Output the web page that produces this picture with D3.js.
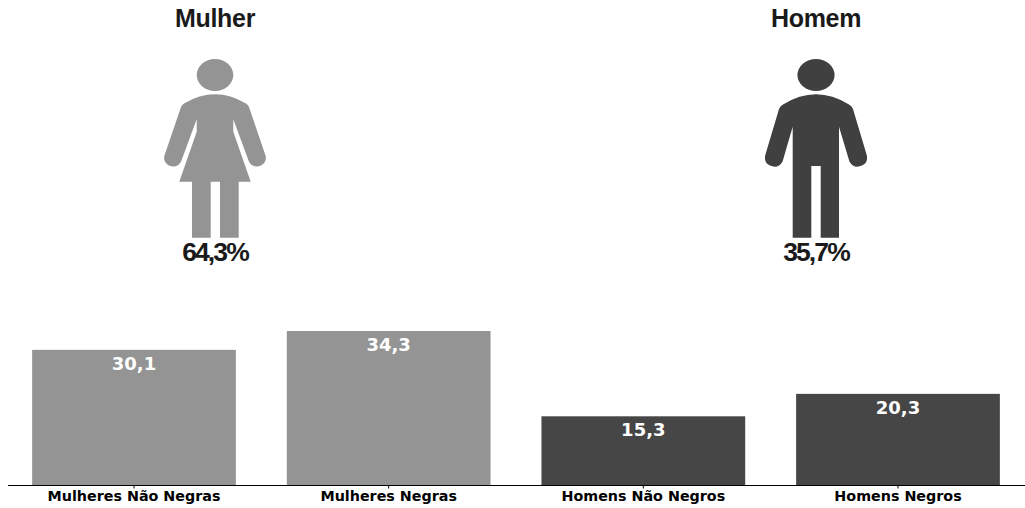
<!DOCTYPE html>
<html lang="pt">
<head>
  <meta charset="utf-8">
  <title>Mulher e Homem</title>
  <script src="https://d3js.org/d3.v7.min.js"></script>
  <style>
    html, body { margin: 0; padding: 0; background: #fff; overflow: hidden; }
    svg { display: block; }
    .group-title { font: bold 25px "Liberation Sans", sans-serif; fill: #1a1a1a; text-anchor: middle; letter-spacing: -0.3px; }
    .group-pct { font: bold 26.5px "Liberation Sans", sans-serif; fill: #1a1a1a; text-anchor: middle; letter-spacing: -1.9px; }
    .bar-value { font: bold 18px "DejaVu Sans", sans-serif; fill: #fff; text-anchor: middle; }
    .x-axis text { font: bold 14.3px "DejaVu Sans", sans-serif; fill: #000; }
  </style>
</head>
<body>
  <svg id="chart" width="1025" height="508" role="img" aria-label="Mulheres e homens, por raça"></svg>

<script>
  const groups = ['Mulher', 'Homem']
  const groupPct = ['64,3%', '35,7%']
  const groupColors = ['#949494', '#404040']

  const categories = ['Mulheres Não Negras', 'Mulheres Negras', 'Homens Não Negros', 'Homens Negros']
  const values = [30.1, 34.3, 15.3, 20.3]
  const valueLabels = ['30,1', '34,3', '15,3', '20,3']
  const barColors = ['#949494', '#949494', '#464646', '#464646']

  // pictograms, drawn around x = 0
  const icons = {
    Mulher: { rx: 18.3, path: 'M-31,103.5 Q0,85 31,103.5 Q33,104.5 34,107 L50.7,156 Q52,162 46,165.5 Q38,168.5 34,161.7 L18.3,119.3 L18.3,131.7 L35.7,181.7 L23.7,181.7 L23.7,237.7 L5,237.7 L5,181.7 L-4.3,181.7 L-4.3,237.7 L-23,237.7 L-23,181.7 L-35.7,181.7 L-18.3,131.7 L-18.3,119.3 L-34,161.7 Q-38,168.5 -46,165.5 Q-52,162 -50.7,156 L-34,107 Q-33,104.5 -31,103.5 Z' },
    Homem: { rx: 18.6, path: 'M-33,104.5 Q0,84 33,104.5 Q36,106 37,109 L51,156 Q52,163 46,165.5 Q38,169 33.5,161.7 L23,126.7 L23,237.7 L4.7,237.7 L4.7,166 L-4.7,166 L-4.7,237.7 L-23.3,237.7 L-23.3,126.7 L-33.5,161.7 Q-38,169 -46,165.5 Q-52,163 -51,156 L-37,109 Q-36,106 -33,104.5 Z' }
  }

  const svg = d3.select('#chart')

  const groupX = d3.scalePoint().domain(groups).range([215, 816])

  // top part: title, figure and share for each group
  const figure = svg.selectAll('.group')
    .data(groups)
    .enter()
    .append('g')
      .attr('class', 'group')
      .attr('transform', d => `translate(${groupX(d)}, 0)`)

  figure.append('text')
    .attr('class', 'group-title')
    .attr('y', 26.5)
    .text(d => d)

  figure.append('ellipse')
    .attr('cy', 75)
    .attr('rx', d => icons[d].rx)
    .attr('ry', 16)
    .style('fill', (d, i) => groupColors[i])

  figure.append('path')
    .attr('d', d => icons[d].path)
    .style('fill', (d, i) => groupColors[i])

  figure.append('text')
    .attr('class', 'group-pct')
    .attr('y', 261)
    .text((d, i) => groupPct[i])

  // bottom part: bar chart
  const x = d3.scaleBand()
    .domain(categories)
    .range([6.67, 1025.33])
    .paddingInner(0.2)
    .paddingOuter(0.1)

  const y = d3.scaleLinear()
    .domain([0, 34.3])
    .range([485, 331])

  svg.selectAll('.bar')
    .data(categories)
    .enter()
    .append('rect')
      .attr('class', 'bar')
      .attr('x', d => x(d))
      .attr('width', x.bandwidth())
      .attr('y', (d, i) => y(values[i]))
      .attr('height', (d, i) => y(0) - y(values[i]))
      .style('fill', (d, i) => barColors[i])

  svg.selectAll('.bar-value')
    .data(categories)
    .enter()
    .append('text')
      .attr('class', 'bar-value')
      .attr('x', d => x(d) + x.bandwidth() / 2)
      .attr('y', (d, i) => y(values[i]) + 20)
      .text((d, i) => valueLabels[i])

  const xAxis = svg.append('g')
    .attr('class', 'x-axis')
    .attr('transform', `translate(0, ${y(0)})`)
    .call(d3.axisBottom(x).tickSizeInner(3.5).tickSizeOuter(0).tickPadding(2))

  xAxis.select('.domain')
    .attr('d', 'M8,0.5H1025')
    .style('stroke', '#000')
    .style('stroke-width', 1.2)
</script>
</body>
</html>
